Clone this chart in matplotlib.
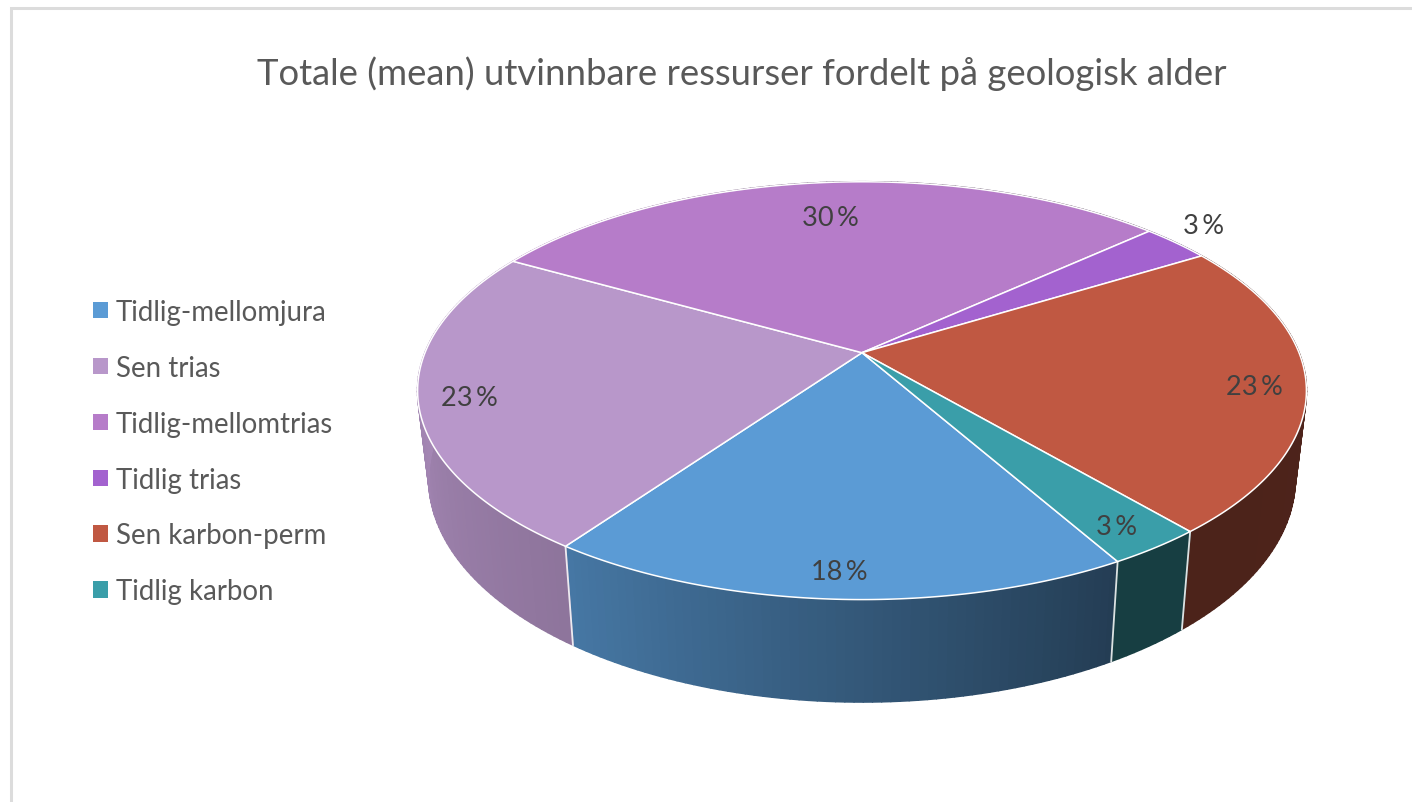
#3d pie, perspective done by hand
import numpy as np
import matplotlib
matplotlib.use("Agg")
import matplotlib.pyplot as plt
from matplotlib.collections import PolyCollection
from matplotlib.patches import Patch

title = "Totale (mean) utvinnbare ressurser fordelt på geologisk alder"
categories = ["Tidlig-mellomjura", "Sen trias", "Tidlig-mellomtrias", "Tidlig trias", "Sen karbon-perm", "Tidlig karbon"]
values = [18, 23.4, 30, 3, 22.6, 3]
colors = ["#5b9bd5", "#b897ca", "#b67cc9", "#a362cf", "#c05842", "#3a9ea9"]
pct_labels = ["18\u2009%", "23\u2009%", "30\u2009%", "3\u2009%", "23\u2009%", "3\u2009%"]
label_xy = [(839, 573), (469, 399), (830, 219), (1204, 227), (1254, 388), (1117, 528)]

W, H = 1412, 803
start = 150.5
CX, CY = 862, 353.7
K = 0.1818
TEXT = "#595959"
DARK = "#404040"
plt.rcParams["font.family"] = "Lato"


def project(theta, ax_x, ax_y, y0):
	# clockwise from the back of the pie, front rim is nearer so it gets bigger
	t = np.radians(theta)
	u = np.sin(t)
	v = -np.cos(t)
	w = 1 - K * v
	return CX + ax_x * u / w, y0 + ax_y * v / w


def top_rim(theta):
	return project(theta, 437, 202, CY)


def bottom_rim(theta):
	return project(theta, 426, 216, 439)


def shade(theta):
	return np.interp(theta % 360, [0, 90, 150, 215, 270, 300, 360], [0.41, 0.41, 0.39, 0.77, 0.90, 0.90, 0.41])


fig = plt.figure(figsize=(W / 100, H / 100), dpi=100)
ax = fig.add_axes([0, 0, 1, 1])
ax.set_xlim(0, W)
ax.set_ylim(H, 0)
ax.axis("off")

# chart frame, only top and left are in the crop
ax.plot([10.5, 10.5, W], [H, 8.5, 8.5], color="#dcdcdc", lw=2.2, solid_joinstyle="miter", zorder=0)

edges = start + np.cumsum([0] + [x * 3.6 for x in values])

# side wall
quads = []
quad_cols = []
for i in range(len(values)):
	lo = edges[i]
	hi = edges[i + 1]
	n = max(int((hi - lo) / 1.0), 2)
	th = np.linspace(lo, hi, n + 1)
	base = np.array(matplotlib.colors.to_rgb(colors[i]))
	for a, b in zip(th[:-1], th[1:]):
		x1, y1 = top_rim(a)
		x2, y2 = top_rim(b)
		x3, y3 = bottom_rim(b)
		x4, y4 = bottom_rim(a)
		quads.append([(x1, y1), (x2, y2), (x3, y3), (x4, y4)])
		quad_cols.append(base * shade((a + b) / 2))
ax.add_collection(PolyCollection(quads, facecolors=quad_cols, edgecolors=quad_cols, linewidths=1.2, zorder=1))

# white lines between the wall pieces, front ones only
for e in edges[:-1]:
	if 90 < e % 360 < 270:
		x1, y1 = top_rim(e)
		x2, y2 = bottom_rim(e)
		ax.plot([x1, x2], [y1, y2], color="white", lw=1.3, alpha=0.85, zorder=2)

# top face
for i in range(len(values)):
	th = np.linspace(edges[i], edges[i + 1], 200)
	x, y = top_rim(th)
	ax.fill(np.r_[CX, x], np.r_[CY, y], facecolor=colors[i], edgecolor="white", lw=1.1, joinstyle="round", zorder=3)

for i in range(len(values)):
	ax.text(label_xy[i][0], label_xy[i][1], pct_labels[i], fontsize=19.5, color=DARK, ha="center", va="center", zorder=5)

ax.text(742, 74, title, fontsize=26.3, color=TEXT, ha="center", va="center")

handles = [Patch(facecolor=c, edgecolor="none") for c in colors]
leg = ax.legend(handles, categories, loc="upper left", bbox_to_anchor=(93 / W, 1 - 300 / H), frameon=False,
	fontsize=19.9, labelcolor=TEXT, handlelength=0.54, handleheight=0.54, handletextpad=0.29,
	labelspacing=1.08, borderpad=0, borderaxespad=0)

plt.savefig("out.png", dpi=100)
plt.close()
